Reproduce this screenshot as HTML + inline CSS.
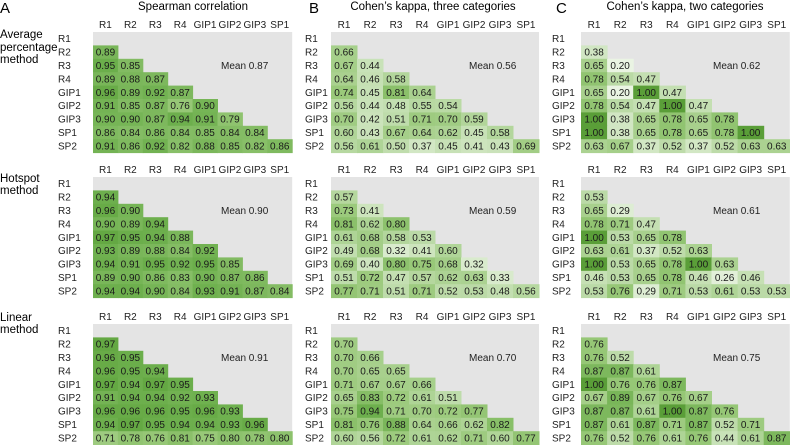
<!DOCTYPE html>
<html><head><meta charset="utf-8"><style>
html,body{margin:0;padding:0;background:#fff;width:790px;height:445px;overflow:hidden}
svg{display:block;font-family:"Liberation Sans",sans-serif}
</style></head><body>
<svg id="fig" width="790" height="445" viewBox="0 0 790 445">
<text x="0" y="13" font-size="15">A</text>
<text x="309" y="13" font-size="15">B</text>
<text x="556" y="13" font-size="15">C</text>
<text x="193" y="10" font-size="11.5" text-anchor="middle">Spearman correlation</text>
<text x="433" y="10" font-size="11.5" text-anchor="middle">Cohen’s kappa, three categories</text>
<text x="685" y="10" font-size="11.5" text-anchor="middle">Cohen’s kappa, two categories</text>
<g font-size="11.5"><text x="0" y="38">Average</text><text x="0" y="51">percentage</text><text x="0" y="63">method</text></g>
<g font-size="11.5"><text x="0" y="182">Hotspot</text><text x="0" y="194">method</text></g>
<g font-size="11.5"><text x="0" y="321">Linear</text><text x="0" y="333">method</text></g>
</svg>
<script>
const labels = ["R1","R2","R3","R4","GIP1","GIP2","GIP3","SP1","SP2"];
const means = [0.87,0.56,0.62,0.90,0.59,0.61,0.91,0.70,0.75];
const avgSpearman = [[0.89],[0.95,0.85],[0.89,0.88,0.87],[0.96,0.89,0.92,0.87],[0.91,0.85,0.87,0.76,0.90],[0.90,0.90,0.87,0.94,0.91,0.79],[0.86,0.84,0.86,0.84,0.85,0.84,0.84],[0.91,0.86,0.92,0.82,0.88,0.85,0.82,0.86]];
const avgKappa3 = [[0.66],[0.67,0.44],[0.64,0.46,0.58],[0.74,0.45,0.81,0.64],[0.56,0.44,0.48,0.55,0.54],[0.70,0.42,0.51,0.71,0.70,0.59],[0.60,0.43,0.67,0.64,0.62,0.45,0.58],[0.56,0.61,0.50,0.37,0.45,0.41,0.43,0.69]];
const avgKappa2 = [[0.38],[0.65,0.20],[0.78,0.54,0.47],[0.65,0.20,1.00,0.47],[0.78,0.54,0.47,1.00,0.47],[1.00,0.38,0.65,0.78,0.65,0.78],[1.00,0.38,0.65,0.78,0.65,0.78,1.00],[0.63,0.67,0.37,0.52,0.37,0.52,0.63,0.63]];
const hotSpearman = [[0.94],[0.96,0.90],[0.90,0.89,0.94],[0.97,0.95,0.94,0.88],[0.93,0.89,0.88,0.84,0.92],[0.94,0.91,0.95,0.92,0.95,0.85],[0.89,0.90,0.86,0.83,0.90,0.87,0.86],[0.94,0.94,0.90,0.84,0.93,0.91,0.87,0.84]];
const hotKappa3 = [[0.57],[0.73,0.41],[0.81,0.62,0.80],[0.61,0.68,0.58,0.53],[0.49,0.68,0.32,0.41,0.60],[0.69,0.40,0.80,0.75,0.68,0.32],[0.51,0.72,0.47,0.57,0.62,0.63,0.33],[0.77,0.71,0.51,0.71,0.52,0.53,0.48,0.56]];
const hotKappa2 = [[0.53],[0.65,0.29],[0.78,0.71,0.47],[1.00,0.53,0.65,0.78],[0.63,0.61,0.37,0.52,0.63],[1.00,0.53,0.65,0.78,1.00,0.63],[0.46,0.53,0.65,0.78,0.46,0.26,0.46],[0.53,0.76,0.29,0.71,0.53,0.61,0.53,0.53]];
const linSpearman = [[0.97],[0.96,0.95],[0.96,0.95,0.94],[0.97,0.94,0.97,0.95],[0.91,0.94,0.94,0.92,0.93],[0.96,0.96,0.96,0.95,0.96,0.93],[0.94,0.97,0.95,0.94,0.94,0.93,0.96],[0.71,0.78,0.76,0.81,0.75,0.80,0.78,0.80]];
const linKappa3 = [[0.70],[0.70,0.66],[0.70,0.65,0.65],[0.71,0.67,0.67,0.66],[0.65,0.83,0.72,0.61,0.51],[0.75,0.94,0.71,0.70,0.72,0.77],[0.81,0.76,0.88,0.64,0.66,0.62,0.82],[0.60,0.56,0.72,0.61,0.62,0.71,0.60,0.77]];
const linKappa2 = [[0.76],[0.76,0.52],[0.87,0.87,0.61],[1.00,0.76,0.76,0.87],[0.67,0.89,0.67,0.76,0.67],[0.87,0.87,0.61,1.00,0.87,0.76],[0.87,0.61,0.87,0.71,0.87,0.52,0.71],[0.76,0.52,0.76,0.61,0.76,0.44,0.61,0.87]];

const datasets = [avgSpearman,avgKappa3,avgKappa2,hotSpearman,hotKappa3,hotKappa2,linSpearman,linKappa3,linKappa2];
const panelNames = ["average-spearman","average-kappa3","average-kappa2","hotspot-spearman","hotspot-kappa3","hotspot-kappa2","linear-spearman","linear-kappa3","linear-kappa2"];
const colX0 = [93,331,581], colW = [24.9,26,26.1], rowLabelX = [58,305,552], meanX = [221,469,713];
const rowY0 = [32,177,324], rowH = 13.4;
const stops = [[0.2,[234,244,227]],[0.5,[192,221,173]],[0.75,[152,200,120]],[0.95,[107,174,75]],[1.0,[90,158,56]]];
function color(v){
  if(v<=stops[0][0]) return 'rgb('+stops[0][1]+')';
  for(let k=1;k<stops.length;k++){
    if(v<=stops[k][0]){
      const a=stops[k-1],b=stops[k],t=(v-a[0])/(b[0]-a[0]);
      return 'rgb('+a[1].map((c,i)=>Math.round(c+(b[1][i]-c)*t)).join(',')+')';
    }
  }
  return 'rgb('+stops[stops.length-1][1]+')';
}
const NS="http://www.w3.org/2000/svg", svg=document.getElementById('fig');
function mk(tag,attrs,parent){const e=document.createElementNS(NS,tag);for(const k in attrs)e.setAttribute(k,attrs[k]);(parent||svg).appendChild(e);return e;}
datasets.forEach((data,p)=>{
  const c=p%3, r=Math.floor(p/3);
  const x0=colX0[c], w=colW[c], y0=rowY0[r];
  const xs=j=>x0+j*w, ys=i=>y0+i*rowH;
  const g=mk('g',{});
  
  
  const bg=mk('rect',{x:x0,y:y0,width:8*w,height:9*rowH,fill:'#e4e4e4'},g);
  
  
  for(let j=0;j<8;j++){
    const t=mk('text',{x:xs(j)+w/2,y:y0-4,'font-size':10,'text-anchor':'middle',fill:'#222'},g);
    t.textContent=labels[j];
    
    
  }
  for(let i=0;i<9;i++){
    const t=mk('text',{x:rowLabelX[c],y:ys(i)+rowH/2+3.5,'font-size':10,fill:'#222'},g);
    t.textContent=labels[i];
    
    
  }
  data.forEach((row,ri)=>{
    const i=ri+1;
    row.forEach((v,j)=>{
      const cell=mk('rect',{x:xs(j),y:ys(i),width:w+0.5,height:rowH+0.5,fill:color(v)},g);
      
      
      const t=mk('text',{x:xs(j)+w/2,y:ys(i)+rowH/2+3.5,'font-size':10,'text-anchor':'middle',fill:'#1a1a1a'},g);
      t.textContent=v.toFixed(2);
      
      
    });
  });
  const m=mk('text',{x:meanX[c],y:ys(2)+rowH/2+3.5,'font-size':10,fill:'#222'},g);
  m.textContent='Mean '+means[p].toFixed(2);
  
  
});
</script>
</body></html>
